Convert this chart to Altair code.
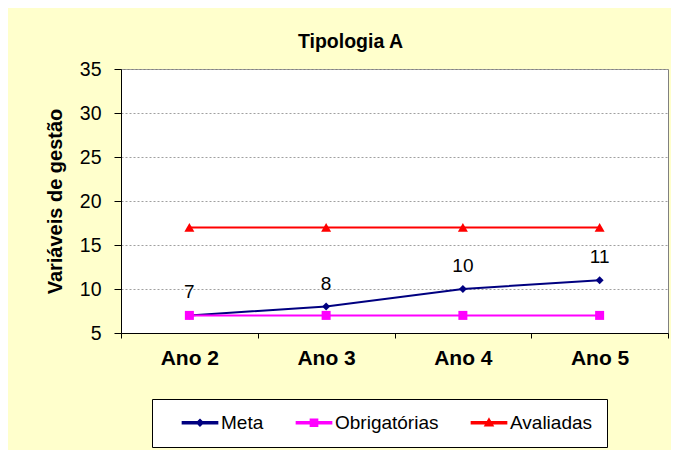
import altair as alt
import pandas as pd

F = "Liberation Sans"

years = ["Ano 2", "Ano 3", "Ano 4", "Ano 5"]
series = ["Meta", "Obrigatórias", "Avaliadas"]
meta = [7, 8, 10, 11]
obrigatorias = [7, 7, 7, 7]
avaliadas = [17, 17, 17, 17]
colors = ["#000080", "#FF00FF", "#FF0000"]
markers = ["diamond", "square", "triangle-up"]
marker_sizes = [64, 81, 100]
legend_paths = [
    "M-4.4,-0.25L4.4,-0.25L4.4,0.25L-4.4,0.25ZM0,-0.8L0.8,0L0,0.8L-0.8,0Z",
    "M-4.4,-0.25L4.4,-0.25L4.4,0.25L-4.4,0.25ZM-0.9,-0.9L0.9,-0.9L0.9,0.9L-0.9,0.9Z",
    "M-4.4,-0.25L4.4,-0.25L4.4,0.25L-4.4,0.25ZM0,-1L1,0.75L-1,0.75Z",
]
y_ticks = [5, 10, 15, 20, 25, 30, 35]

rows = []
for s, vals in zip(series, [meta, obrigatorias, avaliadas]):
    for a, v in zip(years, vals):
        rows.append({"ano": a, "series": s, "valor": v})
df = pd.DataFrame(rows)

x_enc = alt.X(
    "ano:N",
    sort=years,
    scale=alt.Scale(type="band", domain=years, paddingInner=0, paddingOuter=0),
    axis=alt.Axis(
        title=None, labelAngle=0, labelFont=F, labelFontSize=21, labelFontWeight="bold",
        labelColor="black", tickBand="extent", tickColor="black", tickSize=5,
        domainColor="black", labelPadding=9, grid=False,
    ),
)
y_enc = alt.Y(
    "valor:Q",
    scale=alt.Scale(domain=[5, 35], nice=False, zero=False),
    axis=alt.Axis(
        title="Variáveis de gestão", values=y_ticks, titleFont=F, titleFontSize=20,
        titleFontWeight="bold", titleColor="black", labelFont=F, labelFontSize=19.5,
        labelColor="black", tickSize=7, tickColor="black", domainColor="black",
        labelPadding=13, titlePadding=14, grid=True, gridDash=[2, 2], gridColor="#A0A0A0",
    ),
)

base = alt.Chart(df)

# legend-only layer: one off-scale row per series, clipped away from the plot
legend_df = pd.DataFrame({"series": series, "ano": [years[0]] * 3, "valor": [-100] * 3})
leg = alt.Legend(
    title=None, orient="none", legendX=31, legendY=330, direction="horizontal",
    fillColor="white", strokeColor="black", padding=14, labelFont=F, labelFontSize=19,
    labelColor="black", symbolSize=64, symbolOffset=24.5,
    labelOffset=11.5, columnPadding=16,
)
legend_layer = alt.Chart(legend_df).mark_point(filled=True, opacity=1, clip=True).encode(
    x=x_enc,
    y=y_enc,
    color=alt.Color("series:N", scale=alt.Scale(domain=series, range=colors), legend=leg),
    shape=alt.Shape("series:N", scale=alt.Scale(domain=series, range=legend_paths), legend=leg),
)

lines = base.mark_line(strokeWidth=2).encode(
    x=x_enc, y=y_enc,
    stroke=alt.Stroke("series:N", scale=alt.Scale(domain=series, range=colors), legend=None),
)

point_layers = []
for s, c, m, sz in zip(series, colors, markers, marker_sizes):
    point_layers.append(
        base.transform_filter(alt.datum.series == s)
        .mark_point(shape=m, filled=True, size=sz, color=c, opacity=1)
        .encode(x=x_enc, y=y_enc)
    )

labels = base.transform_filter(alt.datum.series == "Meta").mark_text(
    dy=-23, fontSize=19, font=F, color="black"
).encode(x=x_enc, y=y_enc, text="valor:Q")

chart = alt.layer(legend_layer, lines, *point_layers, labels).properties(
    width=547,
    height=264,
    title=alt.Title(
        "Tipologia A", font=F, fontSize=19.5, fontWeight="bold", color="black",
        anchor="middle", dx=-44, offset=7,
    ),
    background="#FFFFCC",
    autosize=alt.AutoSizeParams(type="none"),
    padding={"left": 113, "top": 61, "right": 3, "bottom": 117},
).configure_view(stroke="#808080", fill="white")

chart.save("out.html", embed_options={"renderer": "svg", "actions": False})
